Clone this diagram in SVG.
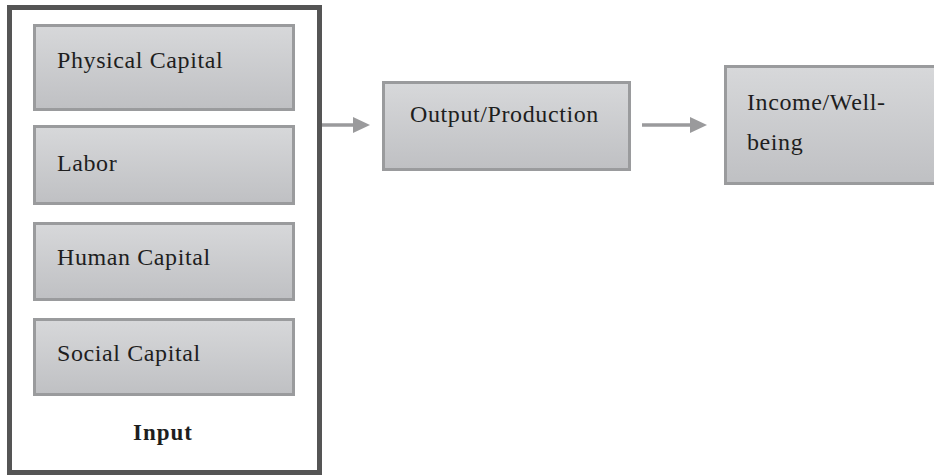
<svg xmlns="http://www.w3.org/2000/svg" width="934" height="475" viewBox="0 0 934 475">
  <defs>
    <linearGradient id="boxFill" x1="0" y1="0" x2="0" y2="1">
      <stop offset="0" stop-color="#d7d8da"/>
      <stop offset="1" stop-color="#bfc0c3"/>
    </linearGradient>
    <marker id="arrowHead" markerUnits="userSpaceOnUse" markerWidth="18" markerHeight="18" refX="0" refY="8" orient="auto">
      <path d="M0,0 L17,8 L0,16 Z" fill="#9a9a9c"/>
    </marker>
  </defs>
  <style>
    .box { fill: url(#boxFill); stroke: #9a9b9d; stroke-width: 3; }
    .frame { fill: #ffffff; stroke: #555555; stroke-width: 5; }
    .label { font-family: "Liberation Serif", "Times New Roman", serif; font-size: 24px; letter-spacing: 0.6px; fill: #1e1e1e; }
    .title { font-family: "Liberation Serif", "Times New Roman", serif; font-size: 23px; font-weight: bold; letter-spacing: 1px; fill: #1e1e1e; }
    .link { fill: none; stroke: #9a9a9c; stroke-width: 3.5; }
  </style>

  <rect width="934" height="475" fill="#ffffff"/>

  <!-- Input frame holding the four capital boxes -->
  <g id="input">
    <rect class="frame" x="9.5" y="7.5" width="310" height="465"/>
    <text class="title" x="163" y="440" text-anchor="middle">Input</text>
  </g>

  <g id="physical-capital">
    <rect class="box" x="34.5" y="25.5" width="259" height="84"/>
    <text class="label" x="57" y="68">Physical Capital</text>
  </g>

  <g id="labor">
    <rect class="box" x="34.5" y="126.5" width="259" height="77"/>
    <text class="label" x="57" y="171">Labor</text>
  </g>

  <g id="human-capital">
    <rect class="box" x="34.5" y="223.5" width="259" height="76"/>
    <text class="label" x="57" y="265">Human Capital</text>
  </g>

  <g id="social-capital">
    <rect class="box" x="34.5" y="319.5" width="259" height="75"/>
    <text class="label" x="57" y="361">Social Capital</text>
  </g>

  <g id="output-production">
    <rect class="box" x="383.5" y="82.5" width="246" height="87"/>
    <text class="label" x="410" y="122">Output/Production</text>
  </g>

  <g id="income-wellbeing">
    <rect class="box" x="725.5" y="66.5" width="220" height="117"/>
    <text class="label" x="747" y="110">Income/Well-</text>
    <text class="label" x="747" y="150">being</text>
  </g>

  <!-- Connectors -->
  <g id="connectors">
    <line class="link" x1="322" y1="125" x2="353" y2="125" marker-end="url(#arrowHead)"/>
    <line class="link" x1="642" y1="125" x2="690" y2="125" marker-end="url(#arrowHead)"/>
  </g>
</svg>
